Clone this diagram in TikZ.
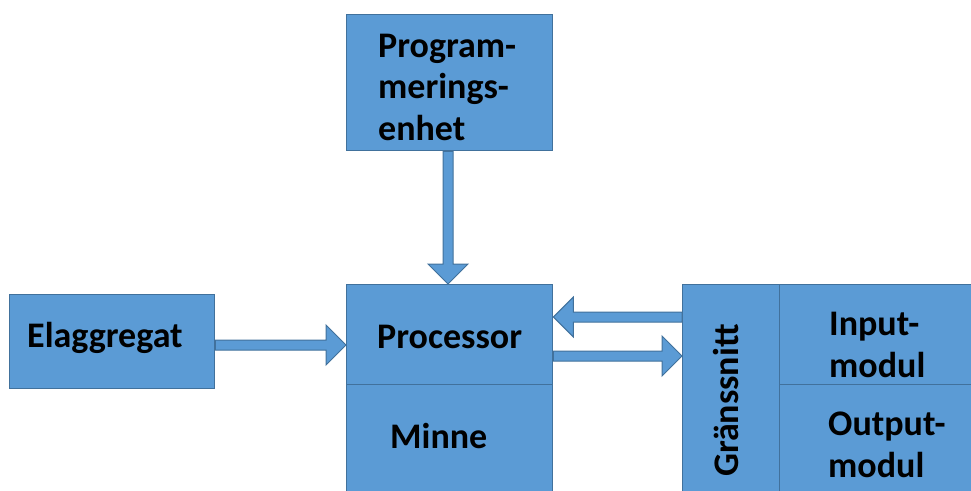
\documentclass[tikz,border=0pt]{standalone}
\usepackage{fontspec}
\setmainfont{Carlito}
\usetikzlibrary{calc}
\definecolor{boxfill}{HTML}{5B9BD5}
\definecolor{boxline}{HTML}{41719C}
\tikzset{
  box/.style={draw=boxline, fill=boxfill, line width=1.3pt, rectangle, inner sep=0pt, anchor=north west},
  lbl/.style={font=\bfseries\fontsize{36pt}{41.5pt}\selectfont, inner sep=0pt, anchor=base west, align=left},
  blockarrow/.style={draw=boxline, fill=boxfill, line width=1pt, line join=miter},
}
\newcommand{\barrow}[2]{%
  \coordinate (ba-h) at ($(#2)!20pt!(#1)$);
  \filldraw[blockarrow] ($(#1)!5pt!90:(#2)$) -- ($(ba-h)!5pt!-90:(#1)$) -- ($(ba-h)!20pt!-90:(#1)$) -- (#2) -- ($(ba-h)!20pt!90:(#1)$) -- ($(ba-h)!5pt!90:(#1)$) -- ($(#1)!5pt!-90:(#2)$) -- cycle;}
\begin{document}
\begin{tikzpicture}[x=1pt, y=-1pt]
\useasboundingbox (0,0) rectangle (971,490);
% boxes
\node[box, minimum width=206pt, minimum height=136pt] (prog) at (346,14) {};
\node[box, minimum width=205pt, minimum height=94pt] (ela) at (9,294) {};
\node[box, minimum width=206pt, minimum height=100pt] (proc) at (346,284) {};
\node[box, minimum width=206pt, minimum height=110pt] (minne) at (346,384) {};
\node[box, minimum width=97pt, minimum height=210pt] (grans) at (682,284) {};
\node[box, minimum width=200pt, minimum height=100pt] (input) at (779,284) {};
\node[box, minimum width=200pt, minimum height=110pt] (output) at (779,384) {};
% labels (base anchor = baseline of last line)
\node[lbl] (progt) at (378,140) {Program-\\merings-\\enhet};
\node[lbl] (elat) at (27,347) {Elaggregat};
\node[lbl] (proct) at (377,348) {Processor};
\node[lbl] (minnet) at (390,448) {Minne};
\node[lbl, rotate=90] (granst) at (738,477) {Gränssnitt};
\node[lbl] (inputt) at (829,377) {Input-\\modul};
\node[lbl] (outputt) at (828,477) {Output-\\modul};
% arrow end points
\coordinate (a1s) at (prog.south -| 448,0);
\coordinate (a1e) at (proc.north -| 448,0);
\coordinate (a2s) at (ela.east |- 0,345);
\coordinate (a2e) at (proc.west |- 0,345);
\coordinate (a3s) at (grans.west |- 0,317);
\coordinate (a3e) at (proc.east |- 0,317);
\coordinate (a4s) at (proc.east |- 0,356);
\coordinate (a4e) at (grans.west |- 0,356);
\barrow{a1s}{a1e}
\barrow{a2s}{a2e}
\barrow{a3s}{a3e}
\barrow{a4s}{a4e}
\end{tikzpicture}
\end{document}
